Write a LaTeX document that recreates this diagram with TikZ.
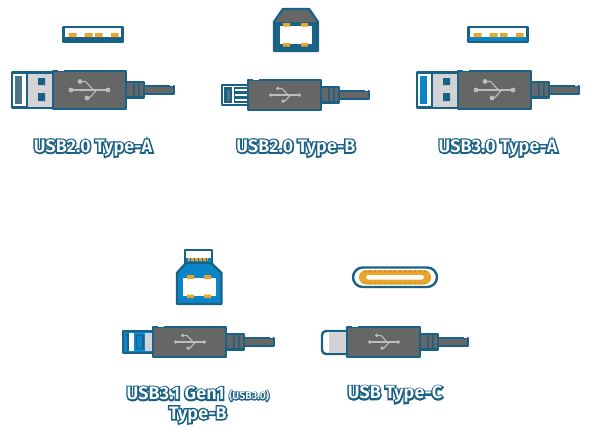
\documentclass[tikz,border=0pt]{standalone}
\usepackage{fontspec}
\setmainfont{Fira Sans SemiBold}[LetterSpace=0.6]
\newfontfamily\rimfont{Fira Sans SemiBold}[FakeBold=17,LetterSpace=0.6]
\definecolor{deep}{HTML}{1A6186}
\definecolor{sky}{HTML}{0C85C8}
\definecolor{shell}{HTML}{666666}
\definecolor{metal}{HTML}{D3D3D5}
\definecolor{gold}{HTML}{E9A52C}
\definecolor{glyph}{HTML}{BDBDBD}
\definecolor{slate}{HTML}{4F7488}
\tikzset{
  x=1pt,y=-1pt,
  edge/.style={draw=deep,line width=2.4pt,line join=round},
  caption/.style={inner sep=0pt,font=\fontsize{18}{19}\selectfont,align=center},
  contact/.style={fill=gold,draw=none},
}
% white lettering centred over a heavier blue copy that forms the rim
\newsavebox{\rimbox}
\newcommand{\rimtext}[1]{\leavevmode\sbox{\rimbox}{\color{white}#1}%
  \makebox[\wd\rimbox][c]{\rimfont\color{deep}#1}\llap{\usebox{\rimbox}}}
% USB trident: centre at (#1,#2), scale #3
\newcommand{\trident}[3]{%
  \begin{scope}[shift={(#1,#2)},scale=#3,draw=glyph,fill=glyph,line width=1.1pt]
    \draw (-18,0) -- (18,0);
    \draw (4,0) -- (-4,-8.5) -- (-10,-8.5);
    \draw (7,0) -- (0,8) -- (-3,8);
    \fill (-18.5,0) circle (2.4) (18.5,0) circle (2.4) (-9.5,-8.5) circle (2.4) (-2.5,8) circle (2.4);
  \end{scope}}
% moulded body, strain relief and cable
\newcommand{\plugbody}[3]{% left x, centre y, half height
  \begin{scope}[shift={(#1,#2)}]
    \fill[shell,edge] (73,-8) rectangle (91,7.5);
    \fill[deep] (80,-8) rectangle (81.5,7.5) (85,-8) rectangle (86.5,7.5);
    \fill[shell,edge] (91,-4) -- (121,-4) -- (121,4) -- (91,4) -- cycle;
    \fill[white] (117,-6) rectangle (120,-4.4);
    \fill[shell,edge] (0,-#3) rectangle (73,#3);
    \fill[white] (5,-#3-1.4) rectangle (11,-#3+.2);
  \end{scope}}
% flat Type-A head; #3 is the tongue colour
\newcommand{\headA}[3]{%
  \begin{scope}[shift={(#1,#2)}]
    \fill[white,edge] (-41,-17.5) rectangle (0,17.5);
    \fill[metal] (-26,-16.5) rectangle (0,16.5);
    \fill[#3] (-38.5,-14) rectangle (-31.5,14);
    \draw[deep,line width=2.2pt] (-26,-17.5) -- (-26,17.5);
    \fill[deep] (-15,-12) rectangle (-8,-5) (-15,3) rectangle (-8,11);
  \end{scope}}
% Type-A socket face; #3 is the lower band colour
\newcommand{\portA}[3]{%
  \begin{scope}[shift={(#1,#2)}]
    \fill[white,edge] (0,0) rectangle (59,15);
    \fill[#3] (.8,10) rectangle (58.2,14.2);
    \fill[contact] (5,6) rectangle (13,10) (21,6) rectangle (29,10) (31.5,6) rectangle (39,10) (47.5,6) rectangle (55,10);
  \end{scope}}
\begin{document}
\begin{tikzpicture}
\useasboundingbox (0,0) rectangle (600,431);
\fill[white] (0,0) rectangle (600,431);

% USB2.0 Type-A
\portA{63.5}{27}{deep}
\headA{53}{90}{slate}
\plugbody{53}{90}{19}
\trident{89.5}{90}{1}
\node[caption] (labela) at (93,148) {\rimtext{USB2.0 Type-A}};

% USB2.0 Type-B
\fill[shell,edge] (274,22) -- (283,9) -- (309,9) -- (318,22) -- (318,51) -- (274,51) -- cycle;
\fill[deep] (274,22) rectangle (318,51);
\fill[white] (279.5,26) rectangle (312,44);
\fill[contact] (283,23) rectangle (290,26.5) (301,23) rectangle (308,26.5) (283,43) rectangle (290,46.5) (301,43) rectangle (308,46.5);
\fill[white,edge] (222,85) rectangle (248,105);
\fill[deep] (224,87) rectangle (232,103);
\fill[slate] (226.5,89.5) rectangle (229.5,100.5);
\fill[white] (232,87) rectangle (234,103);
\fill[deep] (234,87) rectangle (248,103);
\draw[white,line width=2.2pt] (235,90) -- (248,90) (235,95) -- (248,95) (235,100) -- (248,100);
\plugbody{248}{95}{15}
\trident{285}{95}{.77}
\node[caption] (labelb) at (296,148) {\rimtext{USB2.0 Type-B}};

% USB3.0 Type-A
\portA{468.5}{27}{sky}
\headA{458}{90}{sky}
\plugbody{458}{90}{19}
\trident{494.5}{90}{1}
\node[caption] (labelc) at (498,148) {\rimtext{USB3.0 Type-A}};

% USB3.1 Gen1 Type-B
\fill[sky,edge] (185,250) rectangle (212,264);
\fill[white] (186.2,251.2) rectangle (210.8,258);
\fill[contact] (188,258) rectangle (208,261);
\foreach \i in {0,...,4} \fill[deep] (190+4*\i,258) rectangle (191+4*\i,261);
\fill[sky,edge] (177,273) -- (186,263) -- (211,263) -- (221.5,273) -- (221.5,304) -- (177,304) -- cycle;
\fill[white] (183,278) rectangle (216,295.5);
\fill[contact] (187,275) rectangle (194,279) (204,275) rectangle (211,279) (187,294.5) rectangle (194,298) (204,294.5) rectangle (211,298);
\fill[sky,edge] (123,331) rectangle (153,353);
\draw[deep,line width=1.2pt] (128,333) -- (128,351);
\fill[white] (129,333) rectangle (134,351);
\fill[metal] (145,333) rectangle (153,351);
\draw[deep,line width=1.4pt] (136.5,335.5) rectangle (143,348.5);
\plugbody{153}{342}{15}
\trident{190}{342}{.77}
\node[caption] (labeld) at (198,405) {\rimtext{USB3.1 Gen1 {\fontsize{10.5}{11}\selectfont(USB3.0)}}\\[.5pt]\rimtext{Type-B}};

% USB Type-C
\fill[white,edge,rounded corners=9.8pt] (353,267.5) rectangle (437,287);
\fill[gold,rounded corners=7pt] (359,270) rectangle (431,284.5);
\fill[white,rounded corners=2.5pt] (366,275) rectangle (424,279.5);
\foreach \i in {0,...,12} \fill[deep] (365+5*\i,271.6) circle (.5) (365+5*\i,283) circle (.5);
\fill[white,edge,rounded corners=4pt] (322,331) rectangle (352,354);
\fill[metal] (329,332.2) rectangle (347,352.8);
\plugbody{347}{342}{15}
\trident{384}{342}{.77}
\node[caption] (labele) at (395,394.5) {\rimtext{USB Type-C}};
\end{tikzpicture}
\end{document}
